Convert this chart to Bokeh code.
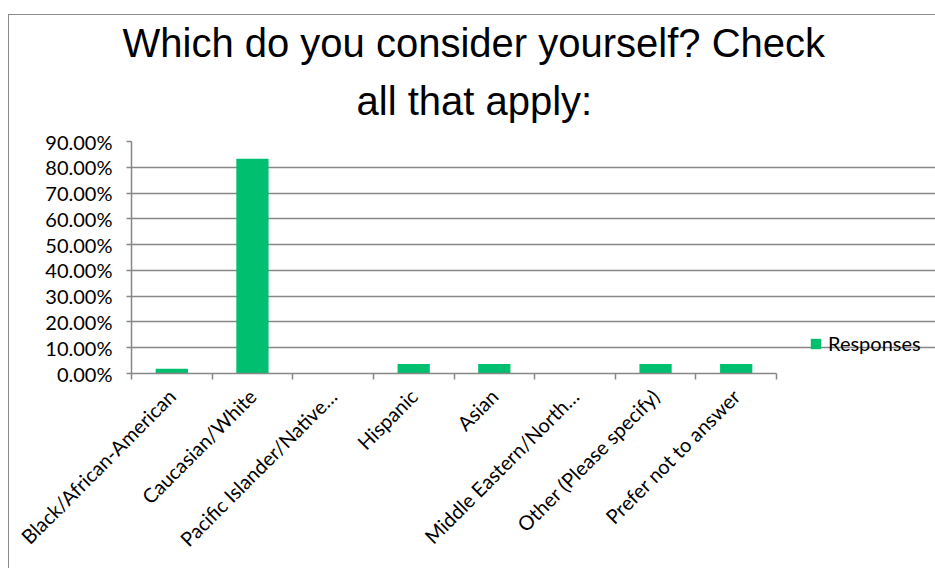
import math
from bokeh.plotting import figure
from bokeh.models import (ColumnDataSource, FixedTicker, NumeralTickFormatter, Legend, LegendItem, Title)
from bokeh.embed import file_html
from bokeh.resources import INLINE

categories = ["Black/African-American", "Caucasian/White", "Pacific Islander/Native\u2026",
              "Hispanic", "Asian", "Middle Eastern/North\u2026", "Other (Please specify)",
              "Prefer not to answer"]
responses = [0.0185, 0.8333, 0.0, 0.0370, 0.0370, 0.0, 0.0370, 0.0370]
y_ticks = [0.0, 0.1, 0.2, 0.3, 0.4, 0.5, 0.6, 0.7, 0.8, 0.9]
series_name = "Responses"
title_lines = ["Which do you consider yourself? Check", "all that apply:"]

GREEN = "#00BF6F"
GRAY = "#878787"
LABEL_FONT = "Lato"
TITLE_FONT = "Liberation Sans"

# layout (pixels)
FIG_W, FIG_H = 927, 554
BORDER_L, BORDER_T, BORDER_B = 122, 126, 196
FRAME_W = FIG_W - BORDER_L          # frame runs to the right edge (legend lives in it)
AXIS_W = 645                        # width actually used by the category axis

n = len(categories)
xs = [i + 0.5 for i in range(n)]
src = ColumnDataSource(dict(x=xs, top=responses, cat=categories))

p = figure(width=FIG_W, height=FIG_H, output_backend="svg", toolbar_location=None,
           x_range=(0, n * FRAME_W / AXIS_W), y_range=(0, 0.9),
           min_border_left=BORDER_L, min_border_right=0, min_border_top=BORDER_T,
           min_border_bottom=BORDER_B)
p.margin = (14, 0, 0, 8)
p.styles = {"border-top": "1.5px solid #8c8c8c", "border-left": "1.5px solid #8c8c8c"}
p.background_fill_color = "white"
p.border_fill_color = "white"
p.outline_line_color = None

r = p.vbar(x="x", top="top", width=0.4, source=src, fill_color=GREEN, line_color=None)

# title: two centred lines
p.title.text = title_lines[0]
p.title.text_font = TITLE_FONT
p.title.text_font_size = "40px"
p.title.text_font_style = "normal"
p.title.text_color = "black"
p.title.align = "left"
p.title.offset = -9
p.title.standoff = -14
t2 = Title(text=title_lines[1], text_font=TITLE_FONT, text_font_size="40px",
           text_font_style="normal", text_color="black", align="left", offset=225, standoff=38)
p.add_layout(t2, "above")

# x axis
xa = p.xaxis[0]
xa.bounds = (0, n)
xa.ticker = FixedTicker(ticks=xs, minor_ticks=list(range(n + 1)))
xa.major_label_overrides = {x: c for x, c in zip(xs, categories)}
xa.major_label_orientation = math.pi / 4
xa.major_tick_out = 0
xa.major_tick_in = 0
xa.minor_tick_out = 6
xa.minor_tick_in = 0
xa.minor_tick_line_color = GRAY
xa.axis_line_color = GRAY
xa.axis_line_width = 1.5
xa.minor_tick_line_width = 1.5
xa.major_label_text_font = LABEL_FONT
xa.major_label_text_font_size = "20px"
xa.major_label_text_color = "black"
xa.major_label_standoff = 13

# y axis
ya = p.yaxis[0]
ya.ticker = FixedTicker(ticks=y_ticks)
ya.formatter = NumeralTickFormatter(format="0.00%")
ya.major_tick_out = 5
ya.major_tick_in = 0
ya.minor_tick_line_color = None
ya.axis_line_color = GRAY
ya.axis_line_width = 1.5
ya.major_tick_line_color = GRAY
ya.major_tick_line_width = 1.5
ya.major_label_text_font = LABEL_FONT
ya.major_label_text_font_size = "20px"
ya.major_label_text_color = "black"
ya.major_label_standoff = 14

p.xgrid.grid_line_color = None
p.ygrid.grid_line_color = GRAY
p.ygrid.grid_line_width = 1.3
p.ygrid.bounds = (0, n)

legend = Legend(items=[LegendItem(label=series_name, renderers=[r])],
                location=(AXIS_W + 33, 18), border_line_color=None, background_fill_alpha=0,
                label_text_font=LABEL_FONT, label_text_font_size="20px", label_text_color="black",
                glyph_width=13, glyph_height=13, padding=0, margin=0, label_standoff=6)
p.add_layout(legend)

open("out.html", "w").write(file_html(p, INLINE))
